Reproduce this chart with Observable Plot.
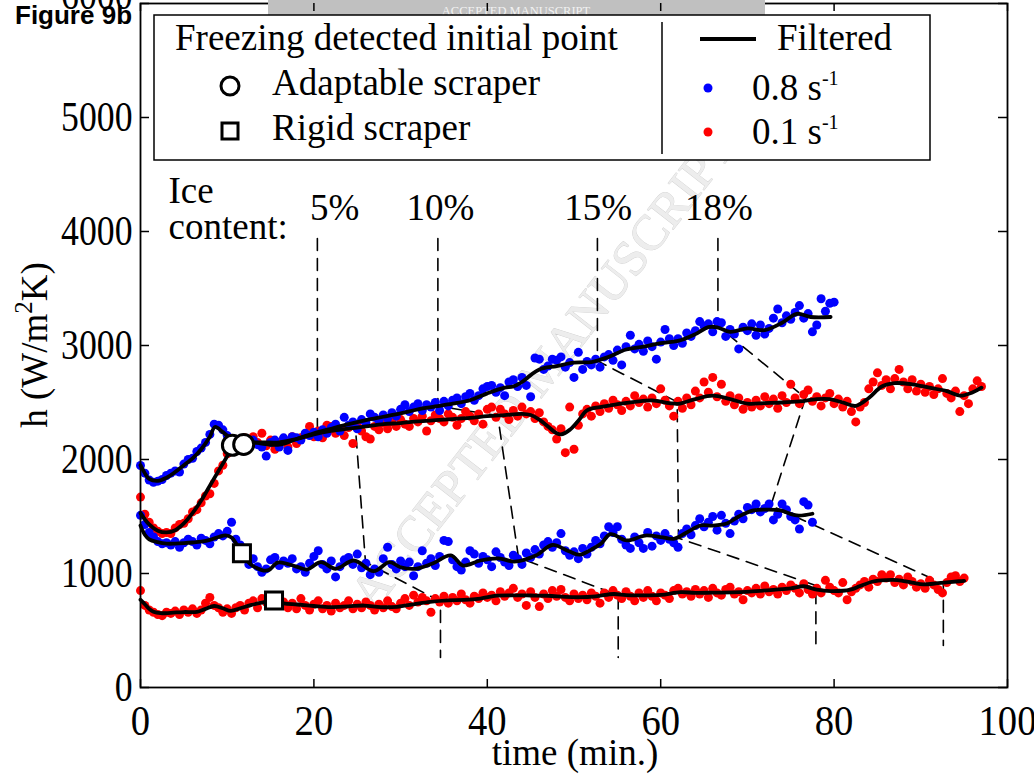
<!DOCTYPE html>
<html><head><meta charset="utf-8">
<script src="https://cdn.jsdelivr.net/npm/d3@7"></script>
<script src="https://cdn.jsdelivr.net/npm/@observablehq/plot@0.6"></script>
<style>
html,body{margin:0;padding:0;background:#fff;}
#chart{width:1034px;height:774px;overflow:hidden;}
</style></head><body><div id="chart"></div>
<script>
const SERIF = '"Liberation Serif", "Times New Roman", serif';
const DT = 0.5; // sampling interval of the raw readings (min.)

const xTicks = [0, 20, 40, 60, 80, 100];
const yTicks = [0, 1000, 2000, 3000, 4000, 5000];
const yTopTick = [6000];

// raw h readings (W/m2K), one every DT minutes from t = 0
const hAdapt08 = [1947,1880,1820,1800,1810,1825,1860,1880,1900,1890,
1960,2000,2010,2070,2100,2150,2220,2310,2300,2260,
2210,2180,2150,2120,2080,2160,2170,2130,2110,2030,
2150,2170,2110,2190,2080,2200,2190,2170,2230,2210,
2240,2200,2260,2230,2280,2310,2250,2370,2300,2330,
2270,2350,2320,2400,2370,2340,2390,2360,2410,2380,
2440,2480,2420,2460,2490,2430,2480,2460,2500,2430,
2510,2470,2520,2540,2490,2550,2580,2520,2560,2620,
2640,2650,2590,2630,2560,2680,2700,2640,2720,2650,
2550,2890,2880,2790,2820,2880,2870,2900,2810,2850,
2720,2940,2790,2860,2830,2880,2810,2900,2920,2870,
2960,2830,2990,3090,2970,3010,2950,3040,2990,2880,
3030,3140,3060,3000,3060,3020,3110,3080,3130,3210,
3170,3190,3120,3210,3200,3080,3140,3100,2970,3160,
3130,3190,3090,3180,3100,3150,3240,3320,3200,3260,
3230,3290,3350,3240,3280,3120,3180,3410,3300,3370,3380];

const hAdapt01 = [1670,1520,1450,1400,1370,1350,1360,1350,1400,1430,
1440,1480,1540,1560,1620,1680,1700,1790,1900,1950,
2050,2100,2120,2160,2190,2130,2200,2150,2230,2120,
2170,2090,2150,2180,2110,2200,2140,2190,2220,2290,
2200,2250,2190,2300,2290,2230,2270,2210,2280,2140,
2300,2250,2200,2180,2290,2260,2320,2270,2330,2290,
2350,2310,2290,2360,2330,2380,2250,2340,2390,2360,
2330,2400,2370,2300,2360,2420,2380,2340,2400,2310,
2440,2460,2370,2440,2400,2350,2430,2380,2460,2400,
2420,2360,2410,2330,2290,2260,2180,2270,2060,2460,
2090,2300,2400,2440,2380,2470,2420,2490,2450,2520,
2480,2430,2510,2470,2560,2500,2530,2460,2540,2490,
2620,2520,2470,2380,2510,2450,2540,2480,2600,2540,
2680,2590,2720,2550,2660,2510,2560,2480,2540,2440,
2500,2460,2520,2470,2550,2490,2530,2450,2560,2500,
2660,2540,2490,2570,2610,2510,2550,2470,2540,2580,
2490,2530,2460,2510,2420,2330,2460,2500,2620,2680,
2760,2650,2700,2620,2710,2790,2680,2620,2700,2600,
2660,2590,2640,2570,2620,2710,2580,2540,2600,2420,
2560,2490,2620,2690,2640];

const hRigid08 = [1510,1430,1360,1320,1280,1260,1270,1250,1280,1230,
1270,1300,1280,1250,1310,1290,1260,1320,1350,1330,
1370,1450,1300,1250,1180,1080,1130,1060,1010,1040,
1120,1140,1070,1110,1090,1130,1040,1060,1010,1090,
1150,1200,1080,1040,1110,970,1060,1120,1140,1080,
1170,1050,1090,990,1040,1010,1130,1230,1080,1040,
1110,1060,1100,980,1060,1200,1090,1130,1070,1150,
1290,1280,1120,1060,1030,1100,1200,1170,1090,1150,
1120,1060,1190,1140,1100,1070,1160,1130,1080,1180,
1140,1210,1170,1250,1280,1230,1270,1350,1200,1160,
1190,1130,1220,1170,1230,1290,1260,1330,1410,1360,
1410,1300,1250,1220,1320,1270,1220,1360,1240,1330,
1290,1350,1300,1270,1230,1350,1390,1340,1420,1480,
1410,1450,1500,1380,1510,1440,1350,1460,1520,1480,
1580,1560,1610,1540,1570,1610,1470,1520,1610,1560,
1500,1470,1390,1630,1600,1450];

const hRigid01 = [850,720,680,660,640,630,660,650,670,640,
680,660,690,650,680,740,790,720,700,660,
690,650,700,720,680,740,760,700,780,750,
770,800,720,750,700,740,690,780,720,680,
730,760,690,720,670,740,700,720,760,690,
730,700,750,720,680,730,700,760,710,690,
740,780,720,810,750,790,760,660,780,750,
800,740,790,760,820,770,740,800,780,830,
790,810,760,840,800,830,870,790,820,720,
840,790,710,820,780,850,800,860,790,760,
820,780,810,770,830,800,740,830,790,850,
810,780,840,800,760,830,790,850,800,760,
830,810,780,850,870,820,840,800,860,820,
850,790,870,830,810,860,880,820,840,770,
850,830,870,820,890,840,860,820,880,850,
900,870,830,910,860,820,870,830,940,880,
850,830,920,770,840,870,900,930,880,950,
930,990,960,990,920,950,900,970,930,880,
910,870,940,900,860,830,920,970,980,930,960];

// filtered curves
const fA01_t = [0,1,2,3,4,5,6,7,8,9,10,10.6,11.5,12.5,14,16,18,20,22,24,26,28,30,32,34,36,38,40,42,44,45,46,47,48,48.5,49.5,50.5,51.5,53,55,57,59,61,62,64,66,68,70,72,74,76,78,79.5,81,82.5,84,85.5,87,89,91,93,94.5,96,97];
const fA01_h = [1530,1430,1375,1360,1380,1440,1530,1640,1770,1900,2030,2125,2140,2145,2150,2150,2180,2220,2250,2270,2290,2310,2320,2335,2345,2355,2365,2380,2390,2400,2390,2350,2290,2230,2220,2260,2340,2430,2460,2485,2505,2518,2495,2488,2530,2560,2530,2490,2495,2500,2510,2530,2530,2500,2470,2540,2640,2670,2660,2630,2600,2560,2590,2630];
const fA08_t = [0,0.5,1,2,3,4,5,6,7,8,8.6,9.5,10.5,11.9,13,14,16,18,20,22,24,26,28,30,32,34,36,38,40,42,43,44,45,46,48,50,52,54,56,58,60,62,64,65.5,66.5,68,70,72,74,75.7,77.3,79.6];
const fA08_h = [1950,1880,1830,1812,1840,1890,1950,2010,2090,2200,2285,2240,2180,2132,2150,2140,2130,2180,2230,2270,2310,2345,2375,2405,2440,2465,2490,2520,2580,2630,2640,2680,2740,2790,2820,2850,2855,2900,2965,2990,3020,3040,3100,3161,3160,3120,3150,3135,3200,3278,3250,3250];
const fR08_t = [0,0.5,1,2,3,4,5,6,7,8,9,9.8,10.5,11.7,12.7,13.5,14.2,14.8,15.8,16.9,18,19.2,20.8,22.5,24.6,26.9,28.7,30,31.7,33.6,35.8,37.2,39.2,41.3,43.1,45.6,47.5,49.4,50.7,52,53.1,54.2,56.1,58.2,60,61.5,63,64.6,66,67.7,69,70.7,72.5,73.8,75.7,77.5];
const fR08_h = [1420,1340,1300,1275,1262,1262,1266,1272,1280,1295,1320,1335,1315,1178,1080,1045,1026,1030,1095,1085,1060,1035,1099,1041,1114,1020,1099,1055,1041,1085,1158,1070,1114,1133,1105,1158,1250,1195,1165,1210,1260,1345,1290,1333,1320,1304,1360,1421,1420,1441,1500,1553,1560,1553,1509,1524];
const fR01_t = [0,0.5,1,1.5,2.3,3.5,5,6.5,7.5,8.5,9.5,10.4,11.5,12.7,14,15.4,16.5,18.1,20,21.9,24,25.8,27.7,29.6,31.5,33.4,35.5,37.3,39.2,41.1,43,45,47,49,50.7,52.5,54.6,56,57.7,60,62.3,64,66,69.2,71,73,75,76.5,78,79.6,81.9,83,84.5,86,87.3,89,90.3,92,94.4,95];
const fR01_h = [770,730,690,665,652,655,662,663,690,715,695,672,695,722,745,763,738,728,715,705,712,719,705,708,730,752,765,768,780,805,808,807,805,795,792,800,820,810,808,812,836,830,832,836,845,857,870,888,858,845,858,890,930,942,942,920,904,915,932,935];

// freezing detected initial points
const circleT = [10.6, 11.9], circleH = [2125, 2132];
const squareT = [11.7, 15.4], squareH = [1178, 763];

// ice content iso-lines
const isoLabels = ["5%", "10%", "15%", "18%"];
const isoLabelT = [22.4, 34.6, 52.8, 66.7];
const iso5_t = [20.4, 20.4, 24.8, 25.95, 34.6, 34.6], iso5_h = [3939, 2235, 2270, 1100, 755, 263];
const iso10_t = [34.3, 34.3, 41.2, 43.6, 55.1, 55.1], iso10_h = [3939, 2468, 2385, 1140, 810, 263];
const iso15_t = [52.7, 52.7, 61.9, 62.05, 77.9, 77.9], iso15_h = [3939, 2865, 2505, 1310, 895, 368];
const iso18_t = [66.6, 66.6, 76.7, 72.7, 92.6, 92.6], iso18_h = [3939, 3170, 2540, 1596, 910, 368];

const pts = (arr) => arr.map((h, i) => ({t: i * DT, h}));
const pairs = (ts, hs, extra = {}) => ts.map((t, i) => ({t, h: hs[i], ...extra}));

const W = 1034, H = 774, ML = 140, MR = 27, MT = 3, MB = 87;
const innerW = W - ML - MR, innerH = H - MT - MB;

const isoData = [
  ...pairs(iso5_t, iso5_h, {k: "5"}), ...pairs(iso10_t, iso10_h, {k: "10"}),
  ...pairs(iso15_t, iso15_h, {k: "15"}), ...pairs(iso18_t, iso18_h, {k: "18"})
];
const lineOpts = {x: "t", y: "h", stroke: "black", strokeWidth: 3.8, curve: "catmull-rom"};
const dotR = 4.5;
const intFmt = (d) => String(d);

const plot = Plot.plot({
  width: W, height: H,
  marginLeft: ML, marginRight: MR, marginTop: MT, marginBottom: MB,
  x: {domain: [0, 100]},
  y: {domain: [0, 6000]},
  style: {fontFamily: SERIF, background: "white"},
  marks: [
    Plot.text([{t: 46.5, h: 2790, s: "ACCEPTED MANUSCRIPT"}], {x: "t", y: "h", text: "s", rotate: -52, fontSize: 50, fontFamily: SERIF, fill: "#ededed", stroke: "#d2d2d2", strokeWidth: 0.8}),
    Plot.line(isoData, {x: "t", y: "h", z: "k", stroke: "black", strokeWidth: 1.6, strokeDasharray: "12,8"}),
    Plot.dot(pts(hAdapt01), {x: "t", y: "h", r: dotR, fill: "#ff0000"}),
    Plot.dot(pts(hAdapt08), {x: "t", y: "h", r: dotR, fill: "#0000ff"}),
    Plot.dot(pts(hRigid01), {x: "t", y: "h", r: dotR, fill: "#ff0000"}),
    Plot.dot(pts(hRigid08), {x: "t", y: "h", r: dotR, fill: "#0000ff"}),
    Plot.line(pairs(fA01_t, fA01_h), lineOpts),
    Plot.line(pairs(fA08_t, fA08_h), lineOpts),
    Plot.line(pairs(fR08_t, fR08_h), lineOpts),
    Plot.line(pairs(fR01_t, fR01_h), lineOpts),
    Plot.dot(pairs(circleT, circleH), {x: "t", y: "h", r: 10, fill: "white", stroke: "black", strokeWidth: 3}),
    Plot.dot(pairs(squareT, squareH), {x: "t", y: "h", symbol: "square", r: 9.6, fill: "white", stroke: "black", strokeWidth: 3}),
    Plot.frame({stroke: "black", strokeWidth: 1.8}),
    Plot.ruleX(xTicks, {insetTop: innerH - 8, stroke: "black", strokeWidth: 1.5}),
    Plot.ruleX(xTicks, {insetBottom: innerH - 8, stroke: "black", strokeWidth: 1.5}),
    Plot.ruleY(yTicks.concat(yTopTick), {insetRight: innerW - 9, stroke: "black", strokeWidth: 1.5}),
    Plot.ruleY(yTicks.concat(yTopTick), {insetLeft: innerW - 9, stroke: "black", strokeWidth: 1.5}),
    Plot.axisX({ticks: xTicks, tickFormat: intFmt, tickSize: 0, tickPadding: 18, fontSize: 42, fontFamily: SERIF, label: null, fill: "black"}),
    Plot.axisY({ticks: yTicks, tickFormat: intFmt, tickSize: 0, tickPadding: 8, fontSize: 42, fontFamily: SERIF, label: null, fill: "black"}),
    Plot.axisY({ticks: yTopTick, tickFormat: intFmt, tickSize: 0, tickPadding: 8, fontSize: 42, fontFamily: SERIF, label: null, fill: "black", dy: -8}),
    Plot.text([{t: 3.23, h: 4246, s: "Ice"}, {t: 3.23, h: 3930, s: "content:"}], {x: "t", y: "h", text: "s", textAnchor: "start", lineAnchor: "bottom", fontSize: 37, fontFamily: SERIF, fill: "black"}),
    Plot.text(isoLabels.map((s, i) => ({s, t: isoLabelT[i], h: 4105})), {x: "t", y: "h", text: "s", textAnchor: "middle", lineAnchor: "bottom", fontSize: 37, fontFamily: SERIF, fill: "black"})
  ]
});
document.getElementById("chart").appendChild(plot);

const svg = d3.select(plot);

// condensed tick labels
function condense(sel, s) {
  sel.each(function () {
    const tr = this.getAttribute("transform");
    if (tr) this.setAttribute("transform", tr + ` scale(${s},1)`);
    else {
      const x = +(this.getAttribute("x") || 0);
      this.setAttribute("transform", `translate(${x},0) scale(${s},1) translate(${-x},0)`);
    }
  });
}
condense(svg.selectAll('g[aria-label="x-axis tick label"] text'), 0.92);
condense(svg.selectAll('g[aria-label="y-axis tick label"] text'), 0.85);

// grey manuscript banner over the top border
const frameNode = plot.querySelector('[aria-label="frame"]');
const bar = d3.create("svg:g");
bar.append("rect").attr("x", 268).attr("y", 0).attr("width", 497).attr("height", 18).attr("fill", "#c0c0c0");
bar.append("text").attr("x", 516).attr("y", 15).attr("text-anchor", "middle").attr("font-family", SERIF)
  .attr("font-size", 12.5).attr("fill", "#f2f2f2").text("ACCEPTED MANUSCRIPT");
if (frameNode) frameNode.after(bar.node()); else plot.appendChild(bar.node());

// figure tag
svg.append("text").attr("x", 15).attr("y", 24).attr("text-anchor", "start").attr("font-family", '"Liberation Sans", Arial, sans-serif')
  .attr("font-weight", "bold").attr("font-size", 26).attr("fill", "black").text("Figure 9b");

// axis titles
svg.append("text").attr("x", 575).attr("y", 765).attr("text-anchor", "middle").attr("font-family", SERIF)
  .attr("font-size", 37).attr("fill", "black").text("time (min.)");
const yt = svg.append("text").attr("transform", "translate(47,345) rotate(-90)").attr("text-anchor", "middle")
  .attr("font-family", SERIF).attr("font-size", 37).attr("fill", "black");
yt.append("tspan").text("h (W/m");
yt.append("tspan").attr("dy", -15).attr("font-size", 25).text("2");
yt.append("tspan").attr("dy", 15).text("K)");

// legend
const lg = svg.append("g").attr("font-family", SERIF).attr("fill", "black").attr("text-anchor", "start");
lg.append("rect").attr("x", 154).attr("y", 15).attr("width", 776).attr("height", 145)
  .attr("fill", "white").attr("stroke", "black").attr("stroke-width", 1.5);
lg.append("line").attr("x1", 662).attr("x2", 662).attr("y1", 22).attr("y2", 154).attr("stroke", "black").attr("stroke-width", 1.5);
lg.append("text").attr("x", 175).attr("y", 50).attr("font-size", 37).text("Freezing detected initial point");
lg.append("circle").attr("cx", 230).attr("cy", 86).attr("r", 9).attr("fill", "white").attr("stroke", "black").attr("stroke-width", 3);
lg.append("text").attr("x", 272).attr("y", 95).attr("font-size", 37).text("Adaptable scraper");
lg.append("rect").attr("x", 222).attr("y", 123).attr("width", 16).attr("height", 16).attr("fill", "white").attr("stroke", "black").attr("stroke-width", 3);
lg.append("text").attr("x", 272).attr("y", 140).attr("font-size", 37).text("Rigid scraper");
lg.append("line").attr("x1", 700).attr("x2", 756).attr("y1", 39).attr("y2", 39).attr("stroke", "black").attr("stroke-width", 3.8);
lg.append("text").attr("x", 777).attr("y", 50).attr("font-size", 37).text("Filtered");
lg.append("circle").attr("cx", 708).attr("cy", 88).attr("r", 4.5).attr("fill", "#0000ff");
const l1 = lg.append("text").attr("x", 752).attr("y", 100).attr("font-size", 37);
l1.append("tspan").text("0.8 s");
l1.append("tspan").attr("dy", -15).attr("font-size", 20).text("-1");
lg.append("circle").attr("cx", 708).attr("cy", 132).attr("r", 4.5).attr("fill", "#ff0000");
const l2 = lg.append("text").attr("x", 752).attr("y", 144).attr("font-size", 37);
l2.append("tspan").text("0.1 s");
l2.append("tspan").attr("dy", -15).attr("font-size", 20).text("-1");
</script>
</body></html>
